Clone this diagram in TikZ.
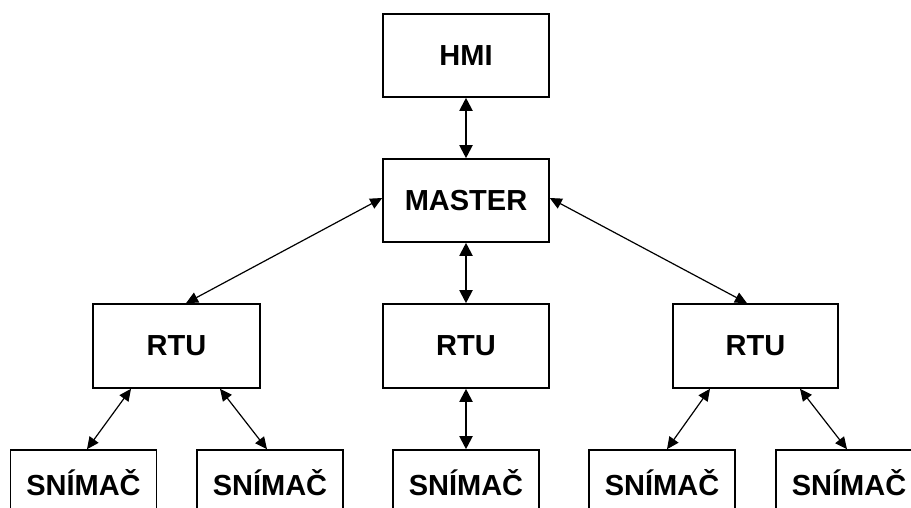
\documentclass[tikz,border=0pt]{standalone}
\usepackage{fontspec}
\setmainfont{Liberation Sans}
\usetikzlibrary{arrows.meta}
\begin{document}
\begin{tikzpicture}[x=1pt,y=-1pt,
  box/.style={draw, line width=1.6pt, minimum width=166pt, minimum height=83pt, inner sep=0pt,
    font=\fontsize{29}{31}\selectfont\bfseries},
  sbox/.style={box, minimum width=146pt, minimum height=66pt},
  bigarrow/.style={line width=2pt, {Triangle[length=13pt,width=13pt]}-{Triangle[length=13pt,width=13pt]}},
  smallarrow/.style={line width=1.2pt, {Triangle[length=12pt,width=11pt]}-{Triangle[length=12pt,width=11pt]}}]
\useasboundingbox (0,0) rectangle (911,508);
\clip (0,0) rectangle (911,508);
\node[box] (hmi) at (466,55.5) {HMI};
\node[box] (master) at (466,200.5) {MASTER};
\node[box, minimum width=167pt, minimum height=84pt] (rtuL) at (176.5,346) {RTU};
\node[box, minimum height=84pt] (rtuM) at (466,346) {RTU};
\node[box, minimum width=165pt, minimum height=84pt] (rtuR) at (755.5,346) {RTU};
\node[sbox] (s1) at (83.5,483) {SNÍMAČ};
\node[sbox] (s2) at (270,483) {SNÍMAČ};
\node[sbox] (s3) at (466,483) {SNÍMAČ};
\node[sbox] (s4) at (662,483) {SNÍMAČ};
\node[sbox] (s5) at (849,483) {SNÍMAČ};
\draw[bigarrow] (hmi.south) -- (master.north);
\draw[bigarrow] (master.south) -- (rtuM.north);
\draw[bigarrow] (rtuM.south) -- (s3.north);
\draw[smallarrow] ([yshift=2.5pt]master.west) -- ([xshift=9.5pt]rtuL.north);
\draw[smallarrow] ([yshift=2.5pt]master.east) -- ([xshift=-8.5pt]rtuR.north);
\draw[smallarrow] ([xshift=-45.5pt]rtuL.south) -- ([xshift=3.5pt]s1.north);
\draw[smallarrow] ([xshift=43.5pt]rtuL.south) -- ([xshift=-3pt]s2.north);
\draw[smallarrow] ([xshift=-45.5pt]rtuR.south) -- ([xshift=5pt]s4.north);
\draw[smallarrow] ([xshift=44.5pt]rtuR.south) -- ([xshift=-2pt]s5.north);
\end{tikzpicture}
\end{document}
